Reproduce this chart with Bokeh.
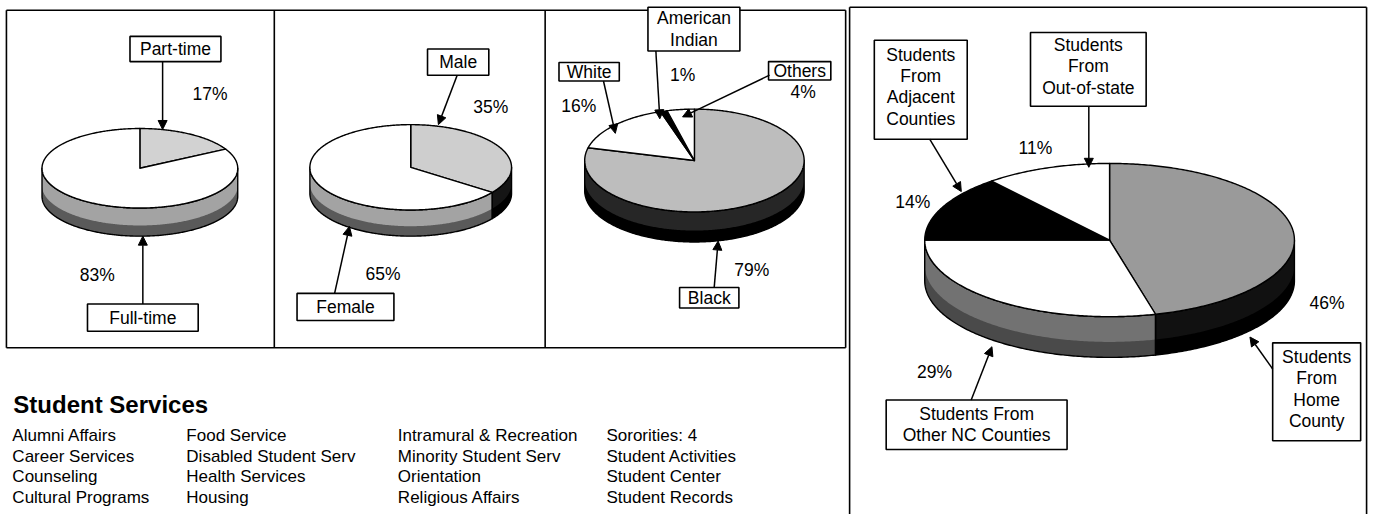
import numpy as np
from bokeh.plotting import figure
from bokeh.models import Range1d, Arrow, NormalHead, ColumnDataSource
from bokeh.embed import file_html
from bokeh.resources import INLINE
from bokeh.core.properties import value

# ---------------- data ----------------
status_labels = ["Part-time", "Full-time"]
status_values = [17, 83]

gender_labels = ["Male", "Female"]
gender_values = [35, 65]

race_labels = ["Black", "White", "American\nIndian", "Others"]
race_values = [79, 16, 1, 4]

origin_labels = ["Students\nFrom\nHome\nCounty", "Students From\nOther NC Counties",
                 "Students\nFrom\nAdjacent\nCounties", "Students\nFrom\nOut-of-state"]
origin_values = [46, 29, 14, 11]

services_title = "Student Services"
services_col1 = ["Alumni Affairs", "Career Services", "Counseling", "Cultural Programs"]
services_col2 = ["Food Service", "Disabled Student Serv", "Health Services", "Housing"]
services_col3 = ["Intramural & Recreation", "Minority Student Serv", "Orientation", "Religious Affairs"]
services_col4 = ["Sororities: 4", "Student Activities", "Student Center", "Student Records"]

# ---------------- layout / style ----------------
FONT = value("Liberation Sans")
FS = "17.5px"

pies = [
    dict(labels=status_labels, values=status_values,
         cx=141, cy=173, rx=99, ry=41, depth=29,
         tops=["#d2d2d2", "#ffffff"], sides=["#a3a3a3", "#a3a3a3"], bands=["#5a5a5a", "#5a5a5a"],
         pct=[(212, 96), (98, 283)],
         boxes=[(131, 223, 37, 63), (88, 200, 313, 341)],
         arrows=[(164, 63, 164, 133), (144, 313, 144, 243)]),
    dict(labels=gender_labels, values=gender_values,
         cx=415, cy=172, rx=102, ry=44, depth=27,
         tops=["#cecece", "#ffffff"], sides=["#151515", "#a3a3a3"], bands=["#000000", "#5a5a5a"],
         pct=[(496, 110), (387, 282)],
         boxes=[(432, 494, 50, 77), (300, 398, 302, 330)],
         arrows=[(462, 77, 443, 128), (338, 302, 353, 233)]),
    dict(labels=race_labels, values=race_values,
         cx=702, cy=165, rx=111, ry=53, depth=31,
         tops=["#bdbdbd", "#ffffff", "#000000", "#ffffff"],
         sides=["#262626"] * 4, bands=["#000000"] * 4,
         pct=[(760, 278), (585, 109), (690, 77), (812, 94)],
         boxes=[(687, 747, 296, 317), (565, 626, 64, 83), (655, 748, 7, 52), (777, 840, 63, 82)],
         arrows=[(722, 296, 726, 248), (610, 83, 622, 137), (663, 52, 667, 122), (778, 77, 690, 120)]),
    dict(labels=origin_labels, values=origin_values,
         cx=1122, cy=247, rx=187, ry=79, depth=42,
         tops=["#9a9a9a", "#ffffff", "#000000", "#ffffff"],
         sides=["#111111", "#727272", "#111111", "#727272"],
         bands=["#000000", "#4a4a4a", "#000000", "#4a4a4a"],
         pct=[(1342, 312), (945, 383), (923, 208), (1047, 152)],
         boxes=[(1287, 1376, 353, 454), (896, 1079, 412, 463), (884, 978, 41, 143), (1042, 1159, 33, 109)],
         arrows=[(1287, 380, 1264, 347), (982, 412, 1003, 357), (940, 143, 972, 197), (1101, 109, 1101, 172)]),
]

W, H = 1373, 514
p = figure(width=W, height=H, x_range=Range1d(0, 1389), y_range=Range1d(530, 0),
           output_backend="svg", toolbar_location=None,
           x_axis_type=None, y_axis_type=None, min_border=0)
p.outline_line_color = None
p.background_fill_color = "white"
p.border_fill_color = "white"

# ---------------- frames ----------------
seg = dict(x0=[6, 6, 6, 855, 277, 551, 859, 859, 1382],
           y0=[10, 358, 10, 10, 10, 10, 7, 7, 7],
           x1=[855, 855, 6, 855, 277, 551, 1382, 859, 1382],
           y1=[10, 358, 358, 358, 358, 358, 7, 545, 545])
p.segment(x0="x0", y0="y0", x1="x1", y1="y1", source=ColumnDataSource(seg),
          line_color="black", line_width=1.6)


def arc(cx, cy, rx, ry, a0, a1, n=None):
    if n is None:
        n = max(6, int(abs(a1 - a0) * 1.5))
    ph = np.radians(np.linspace(a0, a1, n))
    return cx + rx * np.sin(ph), cy - ry * np.cos(ph)


for pie in pies:
    vals = np.array(pie["values"], dtype=float)
    edges = np.concatenate([[0.0], np.cumsum(vals)]) / vals.sum() * 360.0
    cx, cy, rx, ry, d = pie["cx"], pie["cy"], pie["rx"], pie["ry"], pie["depth"]
    sx, sy, sc, bx, by, bc = [], [], [], [], [], []
    tx, ty, tc = [], [], []
    for i in range(len(vals)):
        a0, a1 = edges[i], edges[i + 1]
        lo, hi = max(a0, 90.0), min(a1, 270.0)
        if hi > lo:
            xs, ys = arc(cx, cy, rx, ry, lo, hi)
            sx.append(list(xs) + list(xs[::-1]))
            sy.append(list(ys) + list((ys + d)[::-1]))
            sc.append(pie["sides"][i])
            bx.append(list(xs) + list(xs[::-1]))
            by.append(list(ys + d * 0.62) + list((ys + d)[::-1]))
            bc.append(pie["bands"][i])
        xs, ys = arc(cx, cy, rx, ry, a0, a1)
        tx.append([cx] + list(xs))
        ty.append([cy] + list(ys))
        tc.append(pie["tops"][i])
    if sx:
        p.patches(xs=sx, ys=sy, fill_color=sc, line_color=None)
        p.patches(xs=bx, ys=by, fill_color=bc, line_color=None)
        p.patches(xs=sx, ys=sy, fill_alpha=0, line_color="black", line_width=1.4, line_join="round")
    p.patches(xs=tx, ys=ty, fill_color=tc, line_color="black", line_width=1.4, line_join="round")

    # percentage texts
    p.text(x=[q[0] for q in pie["pct"]], y=[q[1] for q in pie["pct"]],
           text=["%d%%" % v for v in pie["values"]],
           text_font=FONT, text_font_size=FS, text_align="center", text_baseline="middle",
           text_color="black")

    # arrows
    a = pie["arrows"]
    asrc = ColumnDataSource(dict(x0=[q[0] for q in a], y0=[q[1] for q in a],
                                 x1=[q[2] for q in a], y1=[q[3] for q in a]))
    p.add_layout(Arrow(end=NormalHead(size=9, fill_color="black", line_color="black", line_width=1),
                       x_start="x0", y_start="y0", x_end="x1", y_end="y1", source=asrc,
                       line_color="black", line_width=1.5))

    # label boxes
    bxs = pie["boxes"]
    p.quad(left=[b[0] for b in bxs], right=[b[1] for b in bxs],
           top=[b[2] for b in bxs], bottom=[b[3] for b in bxs],
           fill_color="white", line_color="black", line_width=1.6)
    lx, ly, lt = [], [], []
    for b, lab in zip(bxs, pie["labels"]):
        lines = lab.split("\n")
        n = len(lines)
        mx = (b[0] + b[1]) / 2.0
        my = (b[2] + b[3]) / 2.0 - (3 if n > 2 else 0)
        for k, ln in enumerate(lines):
            lx.append(mx)
            ly.append(my + (k - (n - 1) / 2.0) * 22)
            lt.append(ln)
    p.text(x=lx, y=ly, text=lt, text_font=FONT, text_font_size=FS,
           text_align="center", text_baseline="middle", text_color="black")

# ---------------- services text ----------------
p.text(x=[13], y=[417], text=[services_title], text_font=FONT, text_font_size="24px",
       text_font_style="bold", text_align="left", text_baseline="alphabetic", text_color="black")

col_x = [12, 188, 402, 613]
row_y = [449, 470, 491, 512]
sx_, sy_, st_ = [], [], []
for cxp, col in zip(col_x, [services_col1, services_col2, services_col3, services_col4]):
    for ry_, item in zip(row_y, col):
        sx_.append(cxp)
        sy_.append(ry_)
        st_.append(item)
p.text(x=sx_, y=sy_, text=st_, text_font=FONT, text_font_size="17px",
       text_align="left", text_baseline="alphabetic", text_color="black")

open("out.html", "w").write(file_html(p, INLINE))
